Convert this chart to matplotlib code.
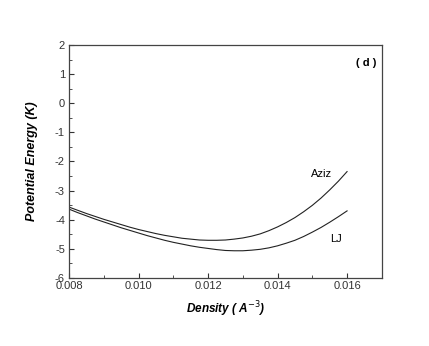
import numpy as np
import matplotlib.pyplot as plt
from matplotlib.ticker import MultipleLocator

plt.rcParams['font.family'] = ['Liberation Sans', 'DejaVu Sans']
plt.rcParams['axes.unicode_minus'] = False

density = [0.008, 0.00825, 0.0085, 0.00875, 0.009, 0.00925, 0.0095, 0.00975,
           0.010, 0.01025, 0.0105, 0.01075, 0.011, 0.01125, 0.0115, 0.01175,
           0.012, 0.01225, 0.0125, 0.01275, 0.013, 0.01325, 0.0135, 0.01375,
           0.014, 0.01425, 0.0145, 0.01475, 0.015, 0.01525, 0.0155, 0.01575, 0.016]
aziz = [-3.57, -3.68, -3.79, -3.89, -3.99, -4.08, -4.17, -4.26,
        -4.34, -4.41, -4.48, -4.54, -4.59, -4.64, -4.67, -4.70,
        -4.71, -4.71, -4.70, -4.67, -4.63, -4.57, -4.49, -4.38,
        -4.25, -4.10, -3.93, -3.73, -3.51, -3.26, -2.98, -2.68, -2.35]
lj = [-3.64, -3.76, -3.87, -3.98, -4.08, -4.18, -4.28, -4.37,
      -4.46, -4.55, -4.63, -4.71, -4.78, -4.84, -4.90, -4.95,
      -4.99, -5.03, -5.06, -5.07, -5.07, -5.05, -5.02, -4.97,
      -4.90, -4.81, -4.71, -4.58, -4.43, -4.27, -4.09, -3.90, -3.70]

fig = plt.figure(figsize=(4.29, 3.46), dpi=100)
ax = fig.add_axes([0.161, 0.197, 0.729, 0.673])

ax.plot(density, aziz, color='#222222', linewidth=0.8)
ax.plot(density, lj, color='#222222', linewidth=0.8)

ax.text(0.01495, -2.43, 'Aziz', fontsize=8, va='center', ha='left')
ax.text(0.01551, -4.67, 'LJ', fontsize=8, va='center', ha='left')
ax.text(0.01685, 1.38, '( d )', fontsize=8, fontweight='bold', va='center', ha='right')

ax.set_xlim(0.008, 0.017)
ax.set_ylim(-6, 2)
ax.xaxis.set_major_locator(MultipleLocator(0.002))
ax.xaxis.set_minor_locator(MultipleLocator(0.001))
ax.yaxis.set_major_locator(MultipleLocator(1))
ax.yaxis.set_minor_locator(MultipleLocator(0.5))
ax.xaxis.set_major_formatter(plt.FormatStrFormatter('%.3f'))
ax.tick_params(which='both', direction='in', labelsize=8, colors='#333333')
ax.tick_params(which='major', length=3.5)
ax.tick_params(which='minor', length=2)
ax.tick_params(axis='x', pad=2)
ax.tick_params(axis='y', pad=3)
for s in ax.spines.values():
    s.set_color('#444444')
    s.set_linewidth(0.9)

ax.set_xlabel('Density ( A$^{-3}$)', fontsize=8.5, fontweight='bold', style='italic', labelpad=6)
ax.set_ylabel('Potential Energy (K)', fontsize=9, fontweight='bold', style='italic', labelpad=12)

fig.savefig('out.png', dpi=100)
